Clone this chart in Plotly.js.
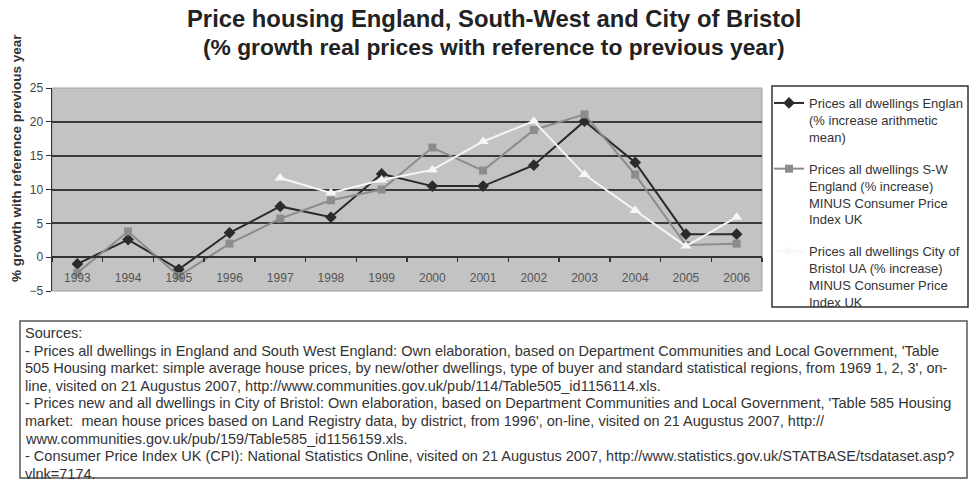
<!DOCTYPE html>
<html><head><meta charset="utf-8">
<script src="https://cdn.plot.ly/plotly-3.0.1.min.js"></script>
<style>html,body{margin:0;padding:0;background:#fff;}#chart{width:970px;height:481px;}</style>
</head><body><div id="chart"></div>
<script>
// ---- data ----
const years = ['1993','1994','1995','1996','1997','1998','1999','2000','2001','2002','2003','2004','2005','2006'];
const england = [-1.0, 2.6, -1.8, 3.6, 7.5, 5.9, 12.3, 10.5, 10.5, 13.6, 20.1, 14.0, 3.4, 3.4];
const southWest = [-2.3, 3.8, -2.8, 2.0, 5.7, 8.4, 10.0, 16.2, 12.8, 18.8, 21.1, 12.2, 1.8, 2.0];
const bristol = [null, null, null, null, 11.7, 9.5, 11.4, 12.9, 17.1, 20.1, 12.2, 6.9, 1.6, 5.9];
const seriesNames = [
  'Prices all dwellings Englan<br>(% increase arithmetic<br>mean)',
  'Prices all dwellings S-W<br>England (% increase)<br>MINUS Consumer Price<br>Index UK',
  'Prices all dwellings City of<br>Bristol UA (% increase)<br>MINUS Consumer Price<br>Index UK'
];
const yTicks = [-5, 0, 5, 10, 15, 20, 25];
const gridTicks = [0, 5, 10, 15, 20];
const titleLines = ['Price housing England, South-West and City of Bristol',
                    '(% growth real prices with reference to previous year)'];
const yTitle = '% growth with reference previous year';
const sourceLines = [
  'Sources:',
  "- Prices all dwellings in England and South West England: Own elaboration, based on Department Communities and Local Government, 'Table",
  "505 Housing market: simple average house prices, by new/other dwellings, type of buyer and standard statistical regions, from 1969 1, 2, 3', on-",
  'line, visited on 21 Augustus 2007, http://www.communities.gov.uk/pub/114/Table505_id1156114.xls.',
  "- Prices new and all dwellings in City of Bristol: Own elaboration, based on Department Communities and Local Government, 'Table 585 Housing",
  "market:  mean house prices based on Land Registry data, by district, from 1996', on-line, visited on 21 Augustus 2007, http://",
  'www.communities.gov.uk/pub/159/Table585_id1156159.xls.',
  '- Consumer Price Index UK (CPI): National Statistics Online, visited on 21 Augustus 2007, http://www.statistics.gov.uk/STATBASE/tsdataset.asp?',
  'vlnk=7174.'
];

// ---- layout helpers (pixel -> paper) ----
const L = 52, R = 762, T = 88, B = 291;
const xp = px => (px - L) / (R - L);
const yp = py => (B - py) / (B - T);

const traces = [
  {x: years, y: england, name: seriesNames[0], legendgroup: 'a', mode: 'lines+markers', type: 'scatter',
   line: {color: '#2b2b2b', width: 2}, marker: {symbol: 'diamond', size: 9, color: '#2b2b2b'}},
  {x: years, y: southWest, name: seriesNames[1], legendgroup: 'b', mode: 'lines+markers', type: 'scatter',
   line: {color: '#8c8c8c', width: 2}, marker: {symbol: 'square', size: 8, color: '#8c8c8c'}},
  {x: years, y: bristol, name: seriesNames[2], legendgroup: 'c', mode: 'lines+markers', type: 'scatter', yaxis: 'y2',
   line: {color: '#f6f6f6', width: 2}, marker: {symbol: 'triangle-up', size: 10, color: '#f6f6f6'}}
];

const annotations = [
  {text: '<b>' + yTitle + '</b>', textangle: -90, xref: 'paper', yref: 'paper', x: xp(16), y: yp(158),
   xanchor: 'center', yanchor: 'middle', showarrow: false, font: {size: 13.5, color: '#333'}}
];
const titleSizes = [23.8, 22.8];
titleLines.forEach((t, i) => annotations.push({
  text: '<b>' + t + '</b>', xref: 'paper', yref: 'paper', x: xp(494), y: yp(18 + i * 29),
  xanchor: 'center', yanchor: 'middle', showarrow: false, font: {size: titleSizes[i], color: '#222'}
}));
sourceLines.forEach((t, i) => annotations.push({
  text: t, xref: 'paper', yref: 'paper', x: xp(23), y: yp(333 + i * 17.6),
  xanchor: 'left', yanchor: 'middle', showarrow: false, font: {size: 14.5, color: '#333'}
}));

const layout = {
  width: 970, height: 481,
  margin: {l: L, r: 970 - R, t: T, b: 481 - B, pad: 0, autoexpand: false},
  paper_bgcolor: '#ffffff', plot_bgcolor: '#c3c3c3',
  font: {family: 'Liberation Sans, Arial, sans-serif', color: '#333'},
  showlegend: true,
  legend: {x: xp(769), xanchor: 'left', y: yp(88), yanchor: 'top', bgcolor: 'rgba(0,0,0,0)', borderwidth: 0,
           font: {size: 13, color: '#333'}, valign: 'top', itemwidth: 30, tracegroupgap: 12, traceorder: 'grouped',
           maxheight: 400},
  xaxis: {type: 'category', range: [-0.5, 13.5], anchor: 'free', position: 5 / 30,
          showline: true, linecolor: '#333', linewidth: 2, ticks: 'outside', tickson: 'boundaries', ticklen: 4,
          tickcolor: '#333', tickwidth: 1.5, showgrid: false, zeroline: false,
          tickfont: {size: 12, color: '#555'}, ticklabelstandoff: 9, fixedrange: true},
  yaxis: {range: [-5, 25], tickvals: yTicks, showgrid: false, zeroline: false,
          showline: true, linecolor: '#333', linewidth: 1.5, ticks: 'outside', ticklen: 5, tickcolor: '#333',
          tickfont: {size: 12, color: '#444'}, fixedrange: true},
  yaxis2: {range: [-5, 25], overlaying: 'y', anchor: 'x', side: 'left', tickvals: gridTicks, showticklabels: false,
           ticks: '', showgrid: true, gridcolor: '#3a3a3a', gridwidth: 2, zeroline: false, showline: false, fixedrange: true},
  shapes: [
    {type: 'rect', xref: 'paper', yref: 'paper', x0: 0, x1: 1, y0: 0, y1: 1, line: {color: '#a0a0a0', width: 1}, layer: 'below'},
    {type: 'rect', xref: 'paper', yref: 'paper', x0: xp(772), x1: xp(968), y0: yp(307), y1: yp(86), line: {color: '#333', width: 1.5}},
    {type: 'rect', xref: 'paper', yref: 'paper', x0: xp(20), x1: xp(967), y0: yp(478), y1: yp(321), line: {color: '#555', width: 1.5}}
  ],
  annotations: annotations
};

Plotly.newPlot('chart', traces, layout, {displayModeBar: false, staticPlot: true});
</script></body></html>
